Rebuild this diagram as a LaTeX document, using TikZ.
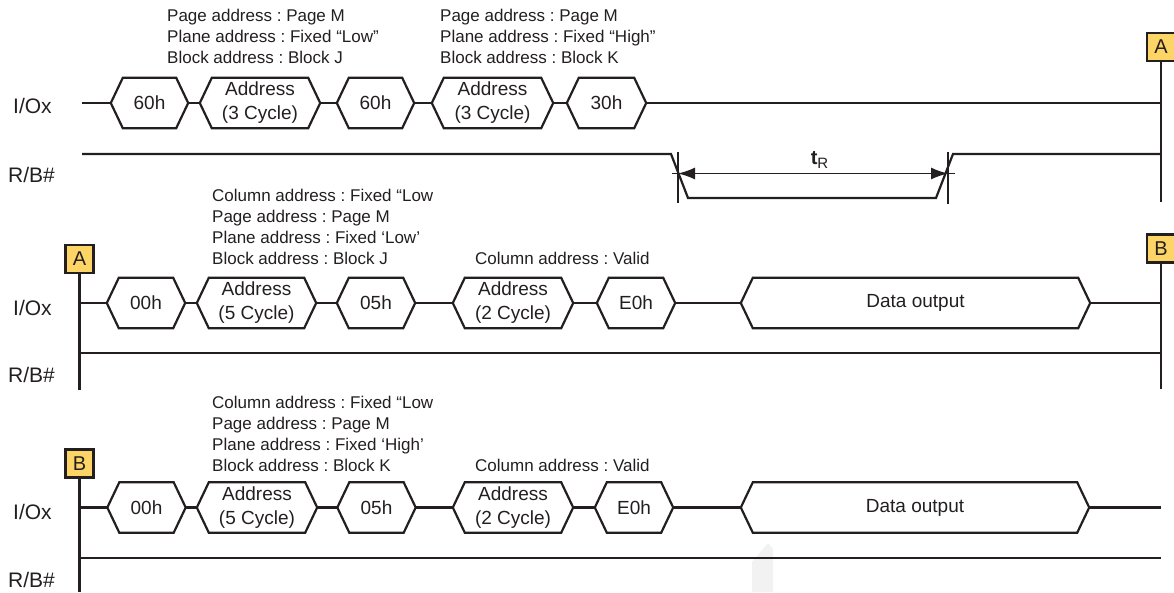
\documentclass[tikz,border=0pt]{standalone}
\usepackage{fontspec}
\setmainfont{Liberation Sans}
\usetikzlibrary{arrows.meta}
\definecolor{ink}{HTML}{231F20}
\definecolor{mk}{HTML}{FDD466}
\frenchspacing
\tikzset{
  sig/.style={line width=2.2pt, draw=ink, line join=miter},
  hexn/.style={minimum height=50pt, inner sep=0pt, font=\fontsize{19}{24}\selectfont, align=center, text=ink},
  ann/.style={anchor=base west, inner sep=0pt, font=\fontsize{17}{21}\selectfont, text=ink},
  lab/.style={anchor=base west, inner sep=0pt, font=\fontsize{21}{24}\selectfont, text=ink},
  marker/.style={draw=ink, line width=2.2pt, fill=mk, minimum width=28pt, minimum height=28pt, inner sep=0pt, font=\fontsize{20}{20}\selectfont, text=ink},
  dim/.style={draw=ink, line width=1.4pt},
}
\newcommand\hexo[2][12]{\draw[sig] (#2.west) -- ([xshift=#1pt]#2.north west) -- ([xshift=-#1pt]#2.north east) -- (#2.east) -- ([xshift=-#1pt]#2.south east) -- ([xshift=#1pt]#2.south west) -- cycle;}
\begin{document}
\begin{tikzpicture}[x=1pt,y=-1pt]
\useasboundingbox (0,0) rectangle (1174,592);

% faint scan artefact
\fill[gray!10] (768,543) -- (773,549) -- (773,592) -- (752,592) -- (752,562) -- cycle;

%================ Row 1 ================
\node[lab] (l1io) at (13,113) {I/Ox};
\node[lab] (l1rb) at (8,182) {R/B\#};

\node[ann] (a11) at (167,21.5) {Page address : Page M};
\node[ann] (a12) at (167,42.5) {Plane address : Fixed “Low”};
\node[ann] (a13) at (167,63.5) {Block address : Block J};
\node[ann] (a14) at (440,21.5) {Page address : Page M};
\node[ann] (a15) at (440,42.5) {Plane address : Fixed “High”};
\node[ann] (a16) at (440,63.5) {Block address : Block K};

\node[hexn, minimum width=77pt]  (h11) at (149.5,103) {60h};
\node[hexn, minimum width=120pt] (h12) at (260,103) {Address\\(3 Cycle)};
\node[hexn, minimum width=77pt]  (h13) at (375.5,103) {60h};
\node[hexn, minimum width=121pt] (h14) at (492.5,103) {Address\\(3 Cycle)};
\node[hexn, minimum width=79pt]  (h15) at (606.5,103) {30h};
\foreach \h in {h11,h12,h13,h14,h15} {\hexo{\h}}

\node[marker] (A1) at (1161,47) {A};
\coordinate (A1b) at (1161,202);
\draw[sig] (A1.south) -- (A1b);

\coordinate (s1s) at (82,103);
\coordinate (s1e) at (1161,103);
\draw[sig] (s1s) -- (h11.west);
\draw[sig] (h11.east) -- (h12.west);
\draw[sig] (h12.east) -- (h13.west);
\draw[sig] (h13.east) -- (h14.west);
\draw[sig] (h14.east) -- (h15.west);
\draw[sig] (h15.east) -- (s1e);

\coordinate (r1s) at (82,154);
\coordinate (r1f) at (671,154);
\coordinate (r1fb) at (688,198);
\coordinate (r1rb) at (936,198);
\coordinate (r1r) at (953,154);
\coordinate (r1e) at (1161,154);
\draw[sig] (r1s) -- (r1f) -- (r1fb) -- (r1rb) -- (r1r) -- (r1e);

% tR dimension
\coordinate (t1a) at (678,152);
\coordinate (t1b) at (678,203);
\coordinate (t2a) at (948,152);
\coordinate (t2b) at (948,204);
\draw[dim] (t1a) -- (t1b);
\draw[dim] (t2a) -- (t2b);
\coordinate (d1) at (678,173.5);
\coordinate (d2) at (948,173.5);
\coordinate (d0) at (672,173.5);
\coordinate (d3) at (955,173.5);
\draw[dim] (d0) -- (d1);
\draw[dim] (d2) -- (d3);
\draw[dim, {Latex[length=17pt,width=12pt]}-{Latex[length=17pt,width=12pt]}] (d1) -- (d2);
\node[anchor=base, inner sep=0pt, font=\fontsize{20}{20}\selectfont, text=ink] (tr) at (819.5,164) {\textbf{t}\raisebox{-4pt}{\fontsize{15}{15}\selectfont R}};

%================ Row 2 ================
\node[lab] (l2io) at (13,315) {I/Ox};
\node[lab] (l2rb) at (8,382) {R/B\#};

\node[ann] (a21) at (212,201.5) {Column address : Fixed “Low};
\node[ann] (a22) at (212,222.5) {Page address : Page M};
\node[ann] (a23) at (212,243.5) {Plane address : Fixed ‘Low’};
\node[ann] (a24) at (212,264.5) {Block address : Block J};
\node[ann] (a25) at (475,264.5) {Column address : Valid};

\node[marker] (A2) at (79.5,259) {A};
\coordinate (A2b) at (79.5,390);
\draw[sig] (A2.south) -- (A2b);
\node[marker] (B1) at (1161,248.5) {B};
\coordinate (B1b) at (1161,389);
\draw[sig] (B1.south) -- (B1b);

\node[hexn, minimum width=78pt]  (h21) at (146,303) {00h};
\node[hexn, minimum width=119pt] (h22) at (256.5,303) {Address\\(5 Cycle)};
\node[hexn, minimum width=78pt]  (h23) at (376,303) {05h};
\node[hexn, minimum width=120pt] (h24) at (513,303) {Address\\(2 Cycle)};
\node[hexn, minimum width=78pt]  (h25) at (636,303) {E0h};
\node[hexn, minimum width=349pt] (h26) at (915.5,303) {Data output};
\foreach \h in {h21,h22,h23,h24,h25,h26} {\hexo{\h}}

\coordinate (s2s) at (79.5,303);
\coordinate (s2e) at (1161,303);
\draw[sig] (s2s) -- (h21.west);
\draw[sig] (h21.east) -- (h22.west);
\draw[sig] (h22.east) -- (h23.west);
\draw[sig] (h23.east) -- (h24.west);
\draw[sig] (h24.east) -- (h25.west);
\draw[sig] (h25.east) -- (h26.west);
\draw[sig] (h26.east) -- (s2e);

\coordinate (r2s) at (79.5,353);
\coordinate (r2e) at (1161,353);
\draw[sig] (r2s) -- (r2e);

%================ Row 3 ================
\node[lab] (l3io) at (13,519) {I/Ox};
\node[lab] (l3rb) at (8,587) {R/B\#};

\node[ann] (a31) at (212,408) {Column address : Fixed “Low};
\node[ann] (a32) at (212,429) {Page address : Page M};
\node[ann] (a33) at (212,450) {Plane address : Fixed ‘High’};
\node[ann] (a34) at (212,471) {Block address : Block K};
\node[ann] (a35) at (475,471) {Column address : Valid};

\node[marker] (B2) at (79.5,463.5) {B};
\coordinate (B2b) at (79.5,592);
\draw[sig] (B2.south) -- (B2b);

\node[hexn, minimum width=78pt]  (h31) at (146.5,507.5) {00h};
\node[hexn, minimum width=120pt] (h32) at (257,507.5) {Address\\(5 Cycle)};
\node[hexn, minimum width=78pt]  (h33) at (376.5,507.5) {05h};
\node[hexn, minimum width=120pt] (h34) at (513,507.5) {Address\\(2 Cycle)};
\node[hexn, minimum width=78pt]  (h35) at (634,507.5) {E0h};
\node[hexn, minimum width=348pt] (h36) at (915,507.5) {Data output};
\foreach \h in {h31,h32,h33,h34,h35,h36} {\hexo{\h}}

\coordinate (s3s) at (79.5,507.5);
\coordinate (s3e) at (1161,507.5);
\draw[sig] (s3s) -- (h31.west);
\draw[sig] (h31.east) -- (h32.west);
\draw[sig] (h32.east) -- (h33.west);
\draw[sig] (h33.east) -- (h34.west);
\draw[sig] (h34.east) -- (h35.west);
\draw[sig] (h35.east) -- (h36.west);
\draw[sig] (h36.east) -- (s3e);

\coordinate (r3s) at (79.5,558);
\coordinate (r3e) at (1161,558);
\draw[sig] (r3s) -- (r3e);
\end{tikzpicture}
\end{document}
